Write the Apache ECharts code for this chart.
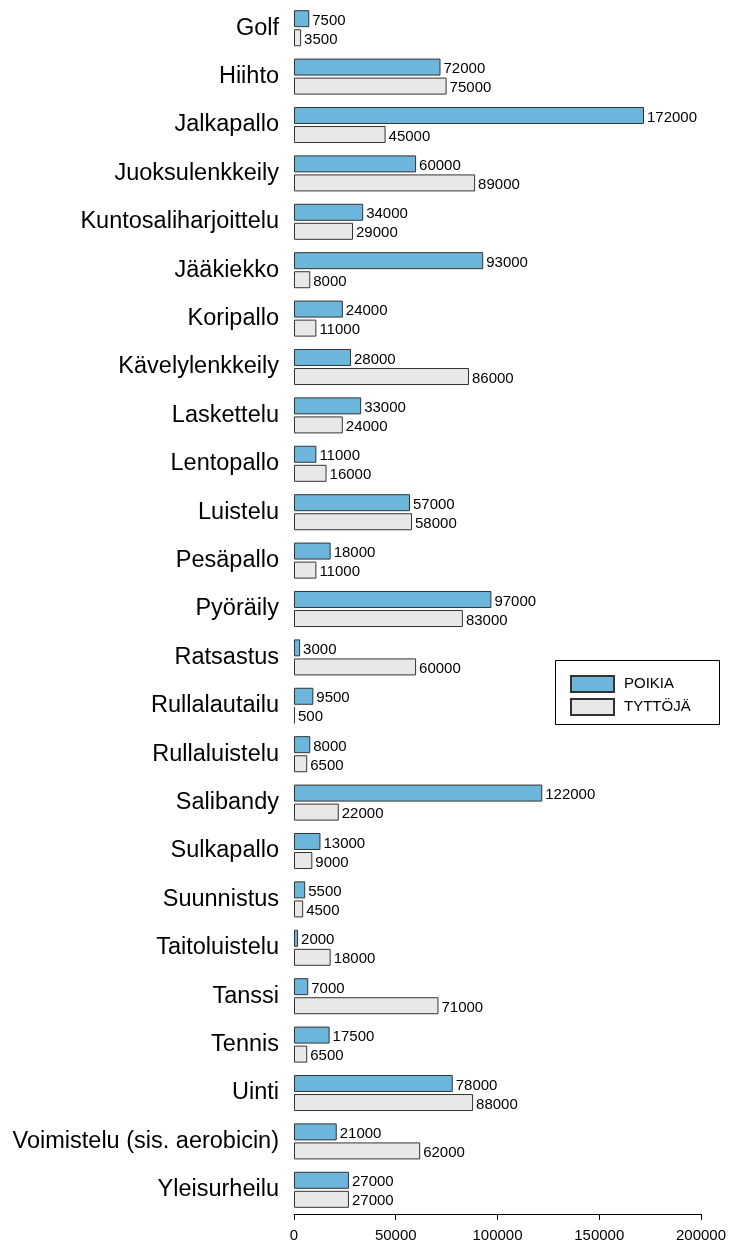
<!DOCTYPE html>
<html>
<head>
<meta charset="utf-8">
<script src="https://cdn.jsdelivr.net/npm/echarts@6/dist/echarts.min.js"></script>
<style>
  html, body { margin: 0; padding: 0; background: #fff; }
  #chart { width: 729px; height: 1243px; }
</style>
</head>
<body>
<div id="chart"></div>
<script>
// Lajit (categories), top to bottom
const categories = [
  'Golf', 'Hiihto', 'Jalkapallo', 'Juoksulenkkeily', 'Kuntosaliharjoittelu',
  'Jääkiekko', 'Koripallo', 'Kävelylenkkeily', 'Laskettelu', 'Lentopallo',
  'Luistelu', 'Pesäpallo', 'Pyöräily', 'Ratsastus', 'Rullalautailu',
  'Rullaluistelu', 'Salibandy', 'Sulkapallo', 'Suunnistus', 'Taitoluistelu',
  'Tanssi', 'Tennis', 'Uinti', 'Voimistelu (sis. aerobicin)', 'Yleisurheilu'
];

// Harrastajat: pojat
const poikia = [
  7500, 72000, 172000, 60000, 34000,
  93000, 24000, 28000, 33000, 11000,
  57000, 18000, 97000, 3000, 9500,
  8000, 122000, 13000, 5500, 2000,
  7000, 17500, 78000, 21000, 27000
];

// Harrastajat: tytöt
const tyttoja = [
  3500, 75000, 45000, 89000, 29000,
  8000, 11000, 86000, 24000, 16000,
  58000, 11000, 83000, 60000, 500,
  6500, 22000, 9000, 4500, 18000,
  71000, 6500, 88000, 62000, 27000
];

const xTicks = { min: 0, max: 200000, interval: 50000 };

const FONT = "'Liberation Sans', Arial, Helvetica, sans-serif";

const chart = echarts.init(document.getElementById('chart'));

function barSeries(name, values, fill) {
  return {
    name: name,
    type: 'bar',
    data: values,
    barWidth: 17,
    barGap: '12%',
    itemStyle: { color: fill, borderColor: '#333', borderWidth: 1 },
    label: {
      show: true,
      position: 'right',
      distance: 3,
      offset: [0, 2],
      color: '#000',
      fontFamily: FONT,
      fontSize: 15
    }
  };
}

chart.setOption({
  animation: false,
  backgroundColor: '#fff',
  grid: { left: 294, right: 28, top: 4, bottom: 27, containLabel: false },
  xAxis: {
    type: 'value',
    min: xTicks.min,
    max: xTicks.max,
    interval: xTicks.interval,
    splitLine: { show: false },
    axisLine: { show: true, lineStyle: { color: '#000', width: 1 } },
    axisTick: { show: true, length: 6, lineStyle: { color: '#000' } },
    axisLabel: {
      color: '#000', fontFamily: FONT, fontSize: 15, margin: 14,
      formatter: function (v) { return String(v); }
    }
  },
  yAxis: {
    type: 'category',
    inverse: true,
    data: categories,
    axisLine: { show: false },
    axisTick: { show: false },
    splitLine: { show: false },
    axisLabel: { color: '#000', fontFamily: FONT, fontSize: 23.5, margin: 15 }
  },
  legend: {
    orient: 'vertical',
    left: 570,
    top: 675,
    padding: 0,
    itemWidth: 43,
    itemHeight: 16,
    itemGap: 5,
    icon: 'rect',
    textStyle: { color: '#000', fontFamily: FONT, fontSize: 15, lineHeight: 16, padding: [0, 0, 0, 5] },
    data: ['POIKIA', 'TYTTÖJÄ']
  },
  graphic: [{
    type: 'rect',
    shape: { x: 555.5, y: 660.5, width: 164, height: 64 },
    style: { fill: 'none', stroke: '#000', lineWidth: 1 },
    z: 1
  }],
  series: [
    barSeries('POIKIA', poikia, '#6cb6dc'),
    barSeries('TYTTÖJÄ', tyttoja, '#e8e8e9')
  ]
});
</script>
</body>
</html>
